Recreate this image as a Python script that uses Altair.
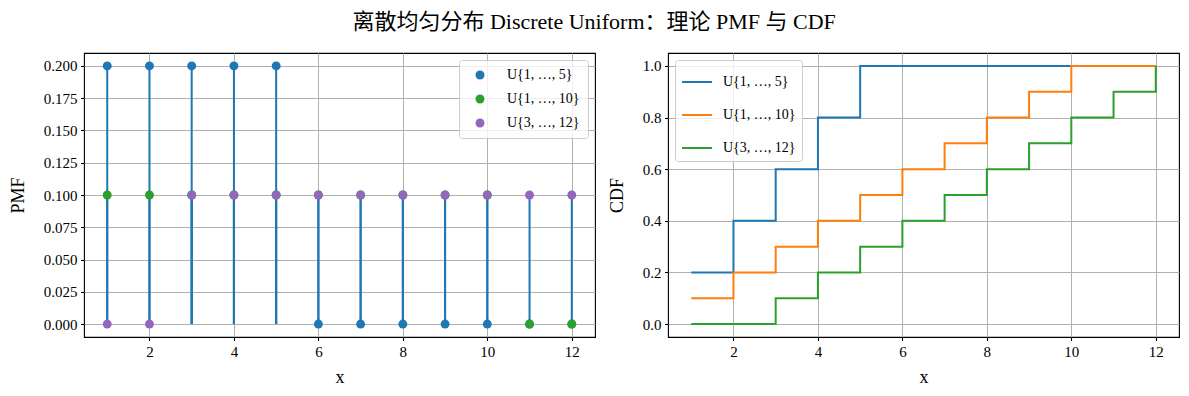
import altair as alt
import pandas as pd

xs = [1, 2, 3, 4, 5, 6, 7, 8, 9, 10, 11, 12]
series_names = ["U{1, …, 5}", "U{1, …, 10}", "U{3, …, 12}"]
pmf_a = [0.2, 0.2, 0.2, 0.2, 0.2, 0, 0, 0, 0, 0, 0, 0]
pmf_b = [0.1, 0.1, 0.1, 0.1, 0.1, 0.1, 0.1, 0.1, 0.1, 0.1, 0, 0]
pmf_c = [0, 0, 0.1, 0.1, 0.1, 0.1, 0.1, 0.1, 0.1, 0.1, 0.1, 0.1]
cdf_a = [0.2, 0.4, 0.6, 0.8, 1.0, 1.0, 1.0, 1.0, 1.0, 1.0, 1.0, 1.0]
cdf_b = [0.1, 0.2, 0.3, 0.4, 0.5, 0.6, 0.7, 0.8, 0.9, 1.0, 1.0, 1.0]
cdf_c = [0.0, 0.0, 0.1, 0.2, 0.3, 0.4, 0.5, 0.6, 0.7, 0.8, 0.9, 1.0]
x_ticks = [2, 4, 6, 8, 10, 12]
pmf_ticks = [0, 0.025, 0.05, 0.075, 0.1, 0.125, 0.15, 0.175, 0.2]
cdf_ticks = [0, 0.2, 0.4, 0.6, 0.8, 1.0]

pmf_colors = ["#1f77b4", "#2ca02c", "#9467bd"]
cdf_colors = ["#1f77b4", "#ff7f0e", "#2ca02c"]

rows = []
for s, p, c in zip(series_names, [pmf_a, pmf_b, pmf_c], [cdf_a, cdf_b, cdf_c]):
    for x, pv, cv in zip(xs, p, c):
        rows.append({"series": s, "x": x, "pmf": pv, "cdf": cv, "zero": 0})
df = pd.DataFrame(rows)

FONT = "Liberation Serif"
W, H = 511, 284

xscale = alt.Scale(domain=[0.45, 12.55], nice=False, zero=False)
xaxis = alt.Axis(values=x_ticks, title="x", format="d", titlePadding=9)
pmf_scale = alt.Scale(domain=[-0.01, 0.21], nice=False, zero=False)
pmf_axis = alt.Axis(values=pmf_ticks, format=".3f", title="PMF", labelOverlap=False)
cdf_scale = alt.Scale(domain=[-0.05, 1.05], nice=False, zero=False)
cdf_axis = alt.Axis(values=cdf_ticks, format=".1f", title="CDF", labelOverlap=False)

base = alt.Chart(df)

stems = base.mark_rule(color="#1f77b4", strokeWidth=2).encode(
    x=alt.X("x:Q", scale=xscale, axis=xaxis),
    y=alt.Y("pmf:Q", scale=pmf_scale, axis=pmf_axis),
    y2="zero:Q",
)

points = base.mark_point(filled=True, size=80, opacity=1).encode(
    x=alt.X("x:Q", scale=xscale, axis=xaxis),
    y=alt.Y("pmf:Q", scale=pmf_scale, axis=pmf_axis),
    color=alt.Color("series:N",
                    scale=alt.Scale(domain=series_names, range=pmf_colors),
                    legend=alt.Legend(orient="top-right", offset=7, title=None,
                                      symbolType="circle", symbolSize=80,
                                      symbolOpacity=1,
                                      labelFont=FONT, labelFontSize=14,
                                      rowPadding=10, padding=8,
                                      fillColor="rgba(255,255,255,0.8)",
                                      strokeColor="#cccccc", cornerRadius=3,
                                      labelOffset=20, symbolOffset=6)),
)

left = alt.layer(stems, points).properties(width=W, height=H)

cdf_layers = []
for s in series_names:
    cdf_layers.append(
        base.transform_filter(alt.datum.series == s).mark_line(
            interpolate="step-after", strokeWidth=2
        ).encode(
            x=alt.X("x:Q", scale=xscale, axis=xaxis),
            y=alt.Y("cdf:Q", scale=cdf_scale, axis=cdf_axis),
            color=alt.Color("series:N",
                            scale=alt.Scale(domain=series_names, range=cdf_colors),
                            legend=alt.Legend(orient="top-left", offset=7, title=None,
                                              symbolType="stroke", symbolSize=900,
                                              symbolStrokeWidth=2,
                                              labelFont=FONT, labelFontSize=14,
                                              rowPadding=10, padding=6,
                                              fillColor="rgba(255,255,255,0.8)",
                                              strokeColor="#cccccc", cornerRadius=3,
                                              labelOffset=10)),
        )
    )

right = alt.layer(*cdf_layers).properties(width=W, height=H)

chart = alt.hconcat(left, right, spacing=11).resolve_scale(color="independent").properties(
    title=alt.TitleParams(
        "离散均匀分布 Discrete Uniform：理论 PMF 与 CDF",
        font="Liberation Serif, Noto Sans CJK SC",
        fontSize=22, fontWeight="normal", color="black",
        anchor="middle", offset=18,
    ),
    padding={"left": 0, "top": 3, "right": 0, "bottom": 0},
).configure_view(
    stroke="black", strokeWidth=1.1
).configure_axis(
    grid=True, gridColor="#b0b0b0", gridWidth=1,
    domain=False, tickColor="black", tickSize=3.5, tickWidth=1.1,
    labelFont=FONT, labelFontSize=15, labelColor="black", labelPadding=3.5,
    titleFont=FONT, titleFontSize=18, titleFontWeight="normal", titleColor="black",
    titlePadding=16,
).configure_legend(
    labelColor="black"
)

chart.save("out.html", embed_options={"renderer": "svg", "actions": False})
